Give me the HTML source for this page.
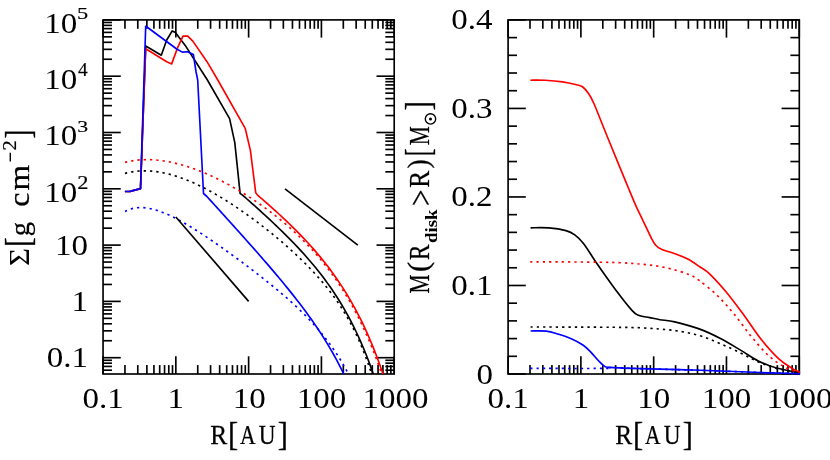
<!DOCTYPE html>
<html><head><meta charset="utf-8"><title>plot</title>
<style>
html,body{margin:0;padding:0;background:#fff;}
body{width:830px;height:460px;overflow:hidden;}
svg{display:block;will-change:transform;font-family:"Liberation Serif",serif;}
text{fill:#000;} .t{stroke:#000;stroke-width:0.25px;}
</style></head><body>
<svg width="830" height="460" viewBox="0 0 830 460">
<rect width="830" height="460" fill="#fff"/>
<clipPath id="c1"><rect x="103.05" y="19.9" width="291.15" height="354.1"/></clipPath>
<clipPath id="c2"><rect x="508.1" y="19.9" width="292.19999999999993" height="355.1"/></clipPath>
<rect x="103.05" y="19.90" width="291.15" height="354.10" fill="none" stroke="#000" stroke-width="1.65"/>
<line x1="103.05" y1="374.00" x2="103.05" y2="356.30" stroke="#000" stroke-width="1.65" />
<line x1="103.05" y1="19.90" x2="103.05" y2="37.60" stroke="#000" stroke-width="1.65" />
<line x1="124.96" y1="374.00" x2="124.96" y2="365.10" stroke="#000" stroke-width="1.65" />
<line x1="124.96" y1="19.90" x2="124.96" y2="28.80" stroke="#000" stroke-width="1.65" />
<line x1="137.78" y1="374.00" x2="137.78" y2="365.10" stroke="#000" stroke-width="1.65" />
<line x1="137.78" y1="19.90" x2="137.78" y2="28.80" stroke="#000" stroke-width="1.65" />
<line x1="146.87" y1="374.00" x2="146.87" y2="365.10" stroke="#000" stroke-width="1.65" />
<line x1="146.87" y1="19.90" x2="146.87" y2="28.80" stroke="#000" stroke-width="1.65" />
<line x1="153.93" y1="374.00" x2="153.93" y2="365.10" stroke="#000" stroke-width="1.65" />
<line x1="153.93" y1="19.90" x2="153.93" y2="28.80" stroke="#000" stroke-width="1.65" />
<line x1="159.69" y1="374.00" x2="159.69" y2="365.10" stroke="#000" stroke-width="1.65" />
<line x1="159.69" y1="19.90" x2="159.69" y2="28.80" stroke="#000" stroke-width="1.65" />
<line x1="164.56" y1="374.00" x2="164.56" y2="365.10" stroke="#000" stroke-width="1.65" />
<line x1="164.56" y1="19.90" x2="164.56" y2="28.80" stroke="#000" stroke-width="1.65" />
<line x1="168.78" y1="374.00" x2="168.78" y2="365.10" stroke="#000" stroke-width="1.65" />
<line x1="168.78" y1="19.90" x2="168.78" y2="28.80" stroke="#000" stroke-width="1.65" />
<line x1="172.51" y1="374.00" x2="172.51" y2="365.10" stroke="#000" stroke-width="1.65" />
<line x1="172.51" y1="19.90" x2="172.51" y2="28.80" stroke="#000" stroke-width="1.65" />
<line x1="175.84" y1="374.00" x2="175.84" y2="356.30" stroke="#000" stroke-width="1.65" />
<line x1="175.84" y1="19.90" x2="175.84" y2="37.60" stroke="#000" stroke-width="1.65" />
<line x1="197.75" y1="374.00" x2="197.75" y2="365.10" stroke="#000" stroke-width="1.65" />
<line x1="197.75" y1="19.90" x2="197.75" y2="28.80" stroke="#000" stroke-width="1.65" />
<line x1="210.57" y1="374.00" x2="210.57" y2="365.10" stroke="#000" stroke-width="1.65" />
<line x1="210.57" y1="19.90" x2="210.57" y2="28.80" stroke="#000" stroke-width="1.65" />
<line x1="219.66" y1="374.00" x2="219.66" y2="365.10" stroke="#000" stroke-width="1.65" />
<line x1="219.66" y1="19.90" x2="219.66" y2="28.80" stroke="#000" stroke-width="1.65" />
<line x1="226.71" y1="374.00" x2="226.71" y2="365.10" stroke="#000" stroke-width="1.65" />
<line x1="226.71" y1="19.90" x2="226.71" y2="28.80" stroke="#000" stroke-width="1.65" />
<line x1="232.48" y1="374.00" x2="232.48" y2="365.10" stroke="#000" stroke-width="1.65" />
<line x1="232.48" y1="19.90" x2="232.48" y2="28.80" stroke="#000" stroke-width="1.65" />
<line x1="237.35" y1="374.00" x2="237.35" y2="365.10" stroke="#000" stroke-width="1.65" />
<line x1="237.35" y1="19.90" x2="237.35" y2="28.80" stroke="#000" stroke-width="1.65" />
<line x1="241.57" y1="374.00" x2="241.57" y2="365.10" stroke="#000" stroke-width="1.65" />
<line x1="241.57" y1="19.90" x2="241.57" y2="28.80" stroke="#000" stroke-width="1.65" />
<line x1="245.29" y1="374.00" x2="245.29" y2="365.10" stroke="#000" stroke-width="1.65" />
<line x1="245.29" y1="19.90" x2="245.29" y2="28.80" stroke="#000" stroke-width="1.65" />
<line x1="248.62" y1="374.00" x2="248.62" y2="356.30" stroke="#000" stroke-width="1.65" />
<line x1="248.62" y1="19.90" x2="248.62" y2="37.60" stroke="#000" stroke-width="1.65" />
<line x1="270.54" y1="374.00" x2="270.54" y2="365.10" stroke="#000" stroke-width="1.65" />
<line x1="270.54" y1="19.90" x2="270.54" y2="28.80" stroke="#000" stroke-width="1.65" />
<line x1="283.35" y1="374.00" x2="283.35" y2="365.10" stroke="#000" stroke-width="1.65" />
<line x1="283.35" y1="19.90" x2="283.35" y2="28.80" stroke="#000" stroke-width="1.65" />
<line x1="292.45" y1="374.00" x2="292.45" y2="365.10" stroke="#000" stroke-width="1.65" />
<line x1="292.45" y1="19.90" x2="292.45" y2="28.80" stroke="#000" stroke-width="1.65" />
<line x1="299.50" y1="374.00" x2="299.50" y2="365.10" stroke="#000" stroke-width="1.65" />
<line x1="299.50" y1="19.90" x2="299.50" y2="28.80" stroke="#000" stroke-width="1.65" />
<line x1="305.26" y1="374.00" x2="305.26" y2="365.10" stroke="#000" stroke-width="1.65" />
<line x1="305.26" y1="19.90" x2="305.26" y2="28.80" stroke="#000" stroke-width="1.65" />
<line x1="310.14" y1="374.00" x2="310.14" y2="365.10" stroke="#000" stroke-width="1.65" />
<line x1="310.14" y1="19.90" x2="310.14" y2="28.80" stroke="#000" stroke-width="1.65" />
<line x1="314.36" y1="374.00" x2="314.36" y2="365.10" stroke="#000" stroke-width="1.65" />
<line x1="314.36" y1="19.90" x2="314.36" y2="28.80" stroke="#000" stroke-width="1.65" />
<line x1="318.08" y1="374.00" x2="318.08" y2="365.10" stroke="#000" stroke-width="1.65" />
<line x1="318.08" y1="19.90" x2="318.08" y2="28.80" stroke="#000" stroke-width="1.65" />
<line x1="321.41" y1="374.00" x2="321.41" y2="356.30" stroke="#000" stroke-width="1.65" />
<line x1="321.41" y1="19.90" x2="321.41" y2="37.60" stroke="#000" stroke-width="1.65" />
<line x1="343.32" y1="374.00" x2="343.32" y2="365.10" stroke="#000" stroke-width="1.65" />
<line x1="343.32" y1="19.90" x2="343.32" y2="28.80" stroke="#000" stroke-width="1.65" />
<line x1="356.14" y1="374.00" x2="356.14" y2="365.10" stroke="#000" stroke-width="1.65" />
<line x1="356.14" y1="19.90" x2="356.14" y2="28.80" stroke="#000" stroke-width="1.65" />
<line x1="365.23" y1="374.00" x2="365.23" y2="365.10" stroke="#000" stroke-width="1.65" />
<line x1="365.23" y1="19.90" x2="365.23" y2="28.80" stroke="#000" stroke-width="1.65" />
<line x1="372.29" y1="374.00" x2="372.29" y2="365.10" stroke="#000" stroke-width="1.65" />
<line x1="372.29" y1="19.90" x2="372.29" y2="28.80" stroke="#000" stroke-width="1.65" />
<line x1="378.05" y1="374.00" x2="378.05" y2="365.10" stroke="#000" stroke-width="1.65" />
<line x1="378.05" y1="19.90" x2="378.05" y2="28.80" stroke="#000" stroke-width="1.65" />
<line x1="382.93" y1="374.00" x2="382.93" y2="365.10" stroke="#000" stroke-width="1.65" />
<line x1="382.93" y1="19.90" x2="382.93" y2="28.80" stroke="#000" stroke-width="1.65" />
<line x1="387.15" y1="374.00" x2="387.15" y2="365.10" stroke="#000" stroke-width="1.65" />
<line x1="387.15" y1="19.90" x2="387.15" y2="28.80" stroke="#000" stroke-width="1.65" />
<line x1="390.87" y1="374.00" x2="390.87" y2="365.10" stroke="#000" stroke-width="1.65" />
<line x1="390.87" y1="19.90" x2="390.87" y2="28.80" stroke="#000" stroke-width="1.65" />
<line x1="394.20" y1="374.00" x2="394.20" y2="356.30" stroke="#000" stroke-width="1.65" />
<line x1="394.20" y1="19.90" x2="394.20" y2="37.60" stroke="#000" stroke-width="1.65" />
<line x1="103.05" y1="370.19" x2="111.95" y2="370.19" stroke="#000" stroke-width="1.65" />
<line x1="394.20" y1="370.19" x2="385.30" y2="370.19" stroke="#000" stroke-width="1.65" />
<line x1="103.05" y1="366.42" x2="111.95" y2="366.42" stroke="#000" stroke-width="1.65" />
<line x1="394.20" y1="366.42" x2="385.30" y2="366.42" stroke="#000" stroke-width="1.65" />
<line x1="103.05" y1="363.16" x2="111.95" y2="363.16" stroke="#000" stroke-width="1.65" />
<line x1="394.20" y1="363.16" x2="385.30" y2="363.16" stroke="#000" stroke-width="1.65" />
<line x1="103.05" y1="360.28" x2="111.95" y2="360.28" stroke="#000" stroke-width="1.65" />
<line x1="394.20" y1="360.28" x2="385.30" y2="360.28" stroke="#000" stroke-width="1.65" />
<line x1="103.05" y1="357.70" x2="120.75" y2="357.70" stroke="#000" stroke-width="1.65" />
<line x1="394.20" y1="357.70" x2="376.50" y2="357.70" stroke="#000" stroke-width="1.65" />
<line x1="103.05" y1="340.75" x2="111.95" y2="340.75" stroke="#000" stroke-width="1.65" />
<line x1="394.20" y1="340.75" x2="385.30" y2="340.75" stroke="#000" stroke-width="1.65" />
<line x1="103.05" y1="330.84" x2="111.95" y2="330.84" stroke="#000" stroke-width="1.65" />
<line x1="394.20" y1="330.84" x2="385.30" y2="330.84" stroke="#000" stroke-width="1.65" />
<line x1="103.05" y1="323.80" x2="111.95" y2="323.80" stroke="#000" stroke-width="1.65" />
<line x1="394.20" y1="323.80" x2="385.30" y2="323.80" stroke="#000" stroke-width="1.65" />
<line x1="103.05" y1="318.35" x2="111.95" y2="318.35" stroke="#000" stroke-width="1.65" />
<line x1="394.20" y1="318.35" x2="385.30" y2="318.35" stroke="#000" stroke-width="1.65" />
<line x1="103.05" y1="313.89" x2="111.95" y2="313.89" stroke="#000" stroke-width="1.65" />
<line x1="394.20" y1="313.89" x2="385.30" y2="313.89" stroke="#000" stroke-width="1.65" />
<line x1="103.05" y1="310.12" x2="111.95" y2="310.12" stroke="#000" stroke-width="1.65" />
<line x1="394.20" y1="310.12" x2="385.30" y2="310.12" stroke="#000" stroke-width="1.65" />
<line x1="103.05" y1="306.86" x2="111.95" y2="306.86" stroke="#000" stroke-width="1.65" />
<line x1="394.20" y1="306.86" x2="385.30" y2="306.86" stroke="#000" stroke-width="1.65" />
<line x1="103.05" y1="303.98" x2="111.95" y2="303.98" stroke="#000" stroke-width="1.65" />
<line x1="394.20" y1="303.98" x2="385.30" y2="303.98" stroke="#000" stroke-width="1.65" />
<line x1="103.05" y1="301.40" x2="120.75" y2="301.40" stroke="#000" stroke-width="1.65" />
<line x1="394.20" y1="301.40" x2="376.50" y2="301.40" stroke="#000" stroke-width="1.65" />
<line x1="103.05" y1="284.45" x2="111.95" y2="284.45" stroke="#000" stroke-width="1.65" />
<line x1="394.20" y1="284.45" x2="385.30" y2="284.45" stroke="#000" stroke-width="1.65" />
<line x1="103.05" y1="274.54" x2="111.95" y2="274.54" stroke="#000" stroke-width="1.65" />
<line x1="394.20" y1="274.54" x2="385.30" y2="274.54" stroke="#000" stroke-width="1.65" />
<line x1="103.05" y1="267.50" x2="111.95" y2="267.50" stroke="#000" stroke-width="1.65" />
<line x1="394.20" y1="267.50" x2="385.30" y2="267.50" stroke="#000" stroke-width="1.65" />
<line x1="103.05" y1="262.05" x2="111.95" y2="262.05" stroke="#000" stroke-width="1.65" />
<line x1="394.20" y1="262.05" x2="385.30" y2="262.05" stroke="#000" stroke-width="1.65" />
<line x1="103.05" y1="257.59" x2="111.95" y2="257.59" stroke="#000" stroke-width="1.65" />
<line x1="394.20" y1="257.59" x2="385.30" y2="257.59" stroke="#000" stroke-width="1.65" />
<line x1="103.05" y1="253.82" x2="111.95" y2="253.82" stroke="#000" stroke-width="1.65" />
<line x1="394.20" y1="253.82" x2="385.30" y2="253.82" stroke="#000" stroke-width="1.65" />
<line x1="103.05" y1="250.56" x2="111.95" y2="250.56" stroke="#000" stroke-width="1.65" />
<line x1="394.20" y1="250.56" x2="385.30" y2="250.56" stroke="#000" stroke-width="1.65" />
<line x1="103.05" y1="247.68" x2="111.95" y2="247.68" stroke="#000" stroke-width="1.65" />
<line x1="394.20" y1="247.68" x2="385.30" y2="247.68" stroke="#000" stroke-width="1.65" />
<line x1="103.05" y1="245.10" x2="120.75" y2="245.10" stroke="#000" stroke-width="1.65" />
<line x1="394.20" y1="245.10" x2="376.50" y2="245.10" stroke="#000" stroke-width="1.65" />
<line x1="103.05" y1="228.15" x2="111.95" y2="228.15" stroke="#000" stroke-width="1.65" />
<line x1="394.20" y1="228.15" x2="385.30" y2="228.15" stroke="#000" stroke-width="1.65" />
<line x1="103.05" y1="218.24" x2="111.95" y2="218.24" stroke="#000" stroke-width="1.65" />
<line x1="394.20" y1="218.24" x2="385.30" y2="218.24" stroke="#000" stroke-width="1.65" />
<line x1="103.05" y1="211.20" x2="111.95" y2="211.20" stroke="#000" stroke-width="1.65" />
<line x1="394.20" y1="211.20" x2="385.30" y2="211.20" stroke="#000" stroke-width="1.65" />
<line x1="103.05" y1="205.75" x2="111.95" y2="205.75" stroke="#000" stroke-width="1.65" />
<line x1="394.20" y1="205.75" x2="385.30" y2="205.75" stroke="#000" stroke-width="1.65" />
<line x1="103.05" y1="201.29" x2="111.95" y2="201.29" stroke="#000" stroke-width="1.65" />
<line x1="394.20" y1="201.29" x2="385.30" y2="201.29" stroke="#000" stroke-width="1.65" />
<line x1="103.05" y1="197.52" x2="111.95" y2="197.52" stroke="#000" stroke-width="1.65" />
<line x1="394.20" y1="197.52" x2="385.30" y2="197.52" stroke="#000" stroke-width="1.65" />
<line x1="103.05" y1="194.26" x2="111.95" y2="194.26" stroke="#000" stroke-width="1.65" />
<line x1="394.20" y1="194.26" x2="385.30" y2="194.26" stroke="#000" stroke-width="1.65" />
<line x1="103.05" y1="191.38" x2="111.95" y2="191.38" stroke="#000" stroke-width="1.65" />
<line x1="394.20" y1="191.38" x2="385.30" y2="191.38" stroke="#000" stroke-width="1.65" />
<line x1="103.05" y1="188.80" x2="120.75" y2="188.80" stroke="#000" stroke-width="1.65" />
<line x1="394.20" y1="188.80" x2="376.50" y2="188.80" stroke="#000" stroke-width="1.65" />
<line x1="103.05" y1="171.85" x2="111.95" y2="171.85" stroke="#000" stroke-width="1.65" />
<line x1="394.20" y1="171.85" x2="385.30" y2="171.85" stroke="#000" stroke-width="1.65" />
<line x1="103.05" y1="161.94" x2="111.95" y2="161.94" stroke="#000" stroke-width="1.65" />
<line x1="394.20" y1="161.94" x2="385.30" y2="161.94" stroke="#000" stroke-width="1.65" />
<line x1="103.05" y1="154.90" x2="111.95" y2="154.90" stroke="#000" stroke-width="1.65" />
<line x1="394.20" y1="154.90" x2="385.30" y2="154.90" stroke="#000" stroke-width="1.65" />
<line x1="103.05" y1="149.45" x2="111.95" y2="149.45" stroke="#000" stroke-width="1.65" />
<line x1="394.20" y1="149.45" x2="385.30" y2="149.45" stroke="#000" stroke-width="1.65" />
<line x1="103.05" y1="144.99" x2="111.95" y2="144.99" stroke="#000" stroke-width="1.65" />
<line x1="394.20" y1="144.99" x2="385.30" y2="144.99" stroke="#000" stroke-width="1.65" />
<line x1="103.05" y1="141.22" x2="111.95" y2="141.22" stroke="#000" stroke-width="1.65" />
<line x1="394.20" y1="141.22" x2="385.30" y2="141.22" stroke="#000" stroke-width="1.65" />
<line x1="103.05" y1="137.96" x2="111.95" y2="137.96" stroke="#000" stroke-width="1.65" />
<line x1="394.20" y1="137.96" x2="385.30" y2="137.96" stroke="#000" stroke-width="1.65" />
<line x1="103.05" y1="135.08" x2="111.95" y2="135.08" stroke="#000" stroke-width="1.65" />
<line x1="394.20" y1="135.08" x2="385.30" y2="135.08" stroke="#000" stroke-width="1.65" />
<line x1="103.05" y1="132.50" x2="120.75" y2="132.50" stroke="#000" stroke-width="1.65" />
<line x1="394.20" y1="132.50" x2="376.50" y2="132.50" stroke="#000" stroke-width="1.65" />
<line x1="103.05" y1="115.55" x2="111.95" y2="115.55" stroke="#000" stroke-width="1.65" />
<line x1="394.20" y1="115.55" x2="385.30" y2="115.55" stroke="#000" stroke-width="1.65" />
<line x1="103.05" y1="105.64" x2="111.95" y2="105.64" stroke="#000" stroke-width="1.65" />
<line x1="394.20" y1="105.64" x2="385.30" y2="105.64" stroke="#000" stroke-width="1.65" />
<line x1="103.05" y1="98.60" x2="111.95" y2="98.60" stroke="#000" stroke-width="1.65" />
<line x1="394.20" y1="98.60" x2="385.30" y2="98.60" stroke="#000" stroke-width="1.65" />
<line x1="103.05" y1="93.15" x2="111.95" y2="93.15" stroke="#000" stroke-width="1.65" />
<line x1="394.20" y1="93.15" x2="385.30" y2="93.15" stroke="#000" stroke-width="1.65" />
<line x1="103.05" y1="88.69" x2="111.95" y2="88.69" stroke="#000" stroke-width="1.65" />
<line x1="394.20" y1="88.69" x2="385.30" y2="88.69" stroke="#000" stroke-width="1.65" />
<line x1="103.05" y1="84.92" x2="111.95" y2="84.92" stroke="#000" stroke-width="1.65" />
<line x1="394.20" y1="84.92" x2="385.30" y2="84.92" stroke="#000" stroke-width="1.65" />
<line x1="103.05" y1="81.66" x2="111.95" y2="81.66" stroke="#000" stroke-width="1.65" />
<line x1="394.20" y1="81.66" x2="385.30" y2="81.66" stroke="#000" stroke-width="1.65" />
<line x1="103.05" y1="78.78" x2="111.95" y2="78.78" stroke="#000" stroke-width="1.65" />
<line x1="394.20" y1="78.78" x2="385.30" y2="78.78" stroke="#000" stroke-width="1.65" />
<line x1="103.05" y1="76.20" x2="120.75" y2="76.20" stroke="#000" stroke-width="1.65" />
<line x1="394.20" y1="76.20" x2="376.50" y2="76.20" stroke="#000" stroke-width="1.65" />
<line x1="103.05" y1="59.25" x2="111.95" y2="59.25" stroke="#000" stroke-width="1.65" />
<line x1="394.20" y1="59.25" x2="385.30" y2="59.25" stroke="#000" stroke-width="1.65" />
<line x1="103.05" y1="49.34" x2="111.95" y2="49.34" stroke="#000" stroke-width="1.65" />
<line x1="394.20" y1="49.34" x2="385.30" y2="49.34" stroke="#000" stroke-width="1.65" />
<line x1="103.05" y1="42.30" x2="111.95" y2="42.30" stroke="#000" stroke-width="1.65" />
<line x1="394.20" y1="42.30" x2="385.30" y2="42.30" stroke="#000" stroke-width="1.65" />
<line x1="103.05" y1="36.85" x2="111.95" y2="36.85" stroke="#000" stroke-width="1.65" />
<line x1="394.20" y1="36.85" x2="385.30" y2="36.85" stroke="#000" stroke-width="1.65" />
<line x1="103.05" y1="32.39" x2="111.95" y2="32.39" stroke="#000" stroke-width="1.65" />
<line x1="394.20" y1="32.39" x2="385.30" y2="32.39" stroke="#000" stroke-width="1.65" />
<line x1="103.05" y1="28.62" x2="111.95" y2="28.62" stroke="#000" stroke-width="1.65" />
<line x1="394.20" y1="28.62" x2="385.30" y2="28.62" stroke="#000" stroke-width="1.65" />
<line x1="103.05" y1="25.36" x2="111.95" y2="25.36" stroke="#000" stroke-width="1.65" />
<line x1="394.20" y1="25.36" x2="385.30" y2="25.36" stroke="#000" stroke-width="1.65" />
<line x1="103.05" y1="22.48" x2="111.95" y2="22.48" stroke="#000" stroke-width="1.65" />
<line x1="394.20" y1="22.48" x2="385.30" y2="22.48" stroke="#000" stroke-width="1.65" />
<line x1="103.05" y1="19.90" x2="120.75" y2="19.90" stroke="#000" stroke-width="1.65" />
<line x1="394.20" y1="19.90" x2="376.50" y2="19.90" stroke="#000" stroke-width="1.65" />
<path d="M125.00,173.38 C125.50,173.26 127.00,172.86 128.00,172.64 C129.00,172.41 130.00,172.21 131.00,172.03 C132.00,171.85 133.00,171.69 134.00,171.55 C135.00,171.41 136.00,171.30 137.00,171.20 C138.00,171.10 139.00,171.02 140.00,170.97 C141.00,170.91 142.00,170.87 143.00,170.85 C144.00,170.83 145.00,170.83 146.00,170.85 C147.00,170.86 148.00,170.90 149.00,170.95 C150.00,171.00 151.00,171.07 152.00,171.16 C153.00,171.25 154.00,171.35 155.00,171.47 C156.00,171.59 157.00,171.72 158.00,171.87 C159.00,172.02 160.00,172.19 161.00,172.37 C162.00,172.55 163.00,172.75 164.00,172.96 C165.00,173.17 166.00,173.39 167.00,173.63 C168.00,173.87 169.00,174.12 170.00,174.39 C171.00,174.65 172.00,174.93 173.00,175.22 C174.00,175.52 175.00,175.82 176.00,176.14 C177.00,176.45 178.00,176.78 179.00,177.12 C180.00,177.47 181.00,177.82 182.00,178.18 C183.00,178.55 184.00,178.92 185.00,179.31 C186.00,179.70 187.00,180.10 188.00,180.50 C189.00,180.91 190.00,181.33 191.00,181.76 C192.00,182.19 193.00,182.63 194.00,183.08 C195.00,183.53 196.00,183.99 197.00,184.46 C198.00,184.93 199.00,185.41 200.00,185.90 C201.00,186.38 202.00,186.88 203.00,187.39 C204.00,187.89 205.00,188.41 206.00,188.93 C207.00,189.46 208.00,189.99 209.00,190.53 C210.00,191.07 211.00,191.62 212.00,192.17 C213.00,192.73 214.00,193.30 215.00,193.87 C216.00,194.44 217.00,195.02 218.00,195.61 C219.00,196.20 220.00,196.79 221.00,197.40 C222.00,198.00 223.00,198.61 224.00,199.23 C225.00,199.84 226.00,200.47 227.00,201.10 C228.00,201.73 229.00,202.37 230.00,203.01 C231.00,203.66 232.00,204.31 233.00,204.97 C234.00,205.63 235.00,206.29 236.00,206.96 C237.00,207.63 238.00,208.31 239.00,208.99 C240.00,209.68 241.00,210.37 242.00,211.06 C243.00,211.76 244.00,212.46 245.00,213.17 C246.00,213.88 247.00,214.59 248.00,215.31 C249.00,216.03 250.00,216.76 251.00,217.49 C252.00,218.22 253.00,218.96 254.00,219.70 C255.00,220.44 256.00,221.19 257.00,221.95 C258.00,222.70 259.00,223.47 260.00,224.23 C261.00,225.00 262.00,225.77 263.00,226.55 C264.00,227.33 265.00,228.11 266.00,228.90 C267.00,229.69 268.00,230.49 269.00,231.29 C270.00,232.10 271.00,232.90 272.00,233.72 C273.00,234.53 274.00,235.35 275.00,236.18 C276.00,237.01 277.00,237.84 278.00,238.68 C279.00,239.52 280.00,240.37 281.00,241.22 C282.00,242.08 283.00,242.94 284.00,243.81 C285.00,244.68 286.00,245.55 287.00,246.43 C288.00,247.32 289.00,248.21 290.00,249.11 C291.00,250.01 292.00,250.91 293.00,251.83 C294.00,252.74 295.00,253.67 296.00,254.60 C297.00,255.54 298.00,256.48 299.00,257.43 C300.00,258.39 301.00,259.35 302.00,260.32 C303.00,261.30 304.00,262.28 305.00,263.28 C306.00,264.28 307.00,265.28 308.00,266.31 C309.00,267.33 310.00,268.36 311.00,269.41 C312.00,270.46 313.00,271.52 314.00,272.60 C315.00,273.68 316.00,274.78 317.00,275.89 C318.00,277.00 319.00,278.13 320.00,279.28 C321.00,280.43 322.00,281.59 323.00,282.78 C324.00,283.97 325.00,285.18 326.00,286.41 C327.00,287.65 328.00,288.90 329.00,290.19 C330.00,291.47 331.00,292.78 332.00,294.12 C333.00,295.46 334.00,296.82 335.00,298.22 C336.00,299.63 337.00,301.06 338.00,302.53 C339.00,304.00 340.00,305.50 341.00,307.05 C342.00,308.60 343.00,310.18 344.00,311.82 C345.00,313.45 346.00,315.13 347.00,316.86 C348.00,318.59 349.00,320.37 350.00,322.21 C351.00,324.06 352.00,325.95 353.00,327.91 C354.00,329.87 355.00,331.90 356.00,334.00 C357.00,336.10 358.00,338.26 359.00,340.52 C360.00,342.77 361.00,345.10 362.00,347.53 C363.00,349.96 364.00,352.46 365.00,355.09 C366.00,357.71 367.00,360.42 368.00,363.26 C369.00,366.11 370.00,369.05 371.00,372.14 C372.00,375.22 373.50,380.18 374.00,381.79" fill="none" stroke="#000000" stroke-width="1.65" stroke-linejoin="round" stroke-dasharray="2.3 4"  clip-path="url(#c1)"/>
<path d="M124.90,191.50 L130.10,191.40 L140.50,188.60 L145.70,46.00 L150.40,48.70 L161.30,55.20 L166.70,40.00 L172.20,30.90 L175.40,32.40 L185.20,45.40 L207.40,80.00 L229.60,118.60 L234.80,142.60 L240.10,193.30 L240.10,193.30 C240.60,193.69 242.10,194.79 243.10,195.62 C244.10,196.45 245.10,197.37 246.10,198.25 C247.10,199.13 248.10,200.01 249.10,200.90 C250.10,201.78 251.10,202.67 252.10,203.56 C253.10,204.45 254.10,205.34 255.10,206.24 C256.10,207.14 257.10,208.03 258.10,208.94 C259.10,209.84 260.10,210.74 261.10,211.65 C262.10,212.56 263.10,213.48 264.10,214.39 C265.10,215.31 266.10,216.23 267.10,217.16 C268.10,218.08 269.10,219.01 270.10,219.94 C271.10,220.88 272.10,221.82 273.10,222.76 C274.10,223.70 275.10,224.65 276.10,225.61 C277.10,226.56 278.10,227.52 279.10,228.49 C280.10,229.46 281.10,230.43 282.10,231.41 C283.10,232.39 284.10,233.37 285.10,234.36 C286.10,235.36 287.10,236.36 288.10,237.36 C289.10,238.37 290.10,239.39 291.10,240.41 C292.10,241.43 293.10,242.47 294.10,243.51 C295.10,244.55 296.10,245.60 297.10,246.66 C298.10,247.72 299.10,248.80 300.10,249.88 C301.10,250.96 302.10,252.05 303.10,253.16 C304.10,254.26 305.10,255.38 306.10,256.51 C307.10,257.64 308.10,258.79 309.10,259.94 C310.10,261.10 311.10,262.27 312.10,263.46 C313.10,264.65 314.10,265.85 315.10,267.07 C316.10,268.29 317.10,269.53 318.10,270.78 C319.10,272.04 320.10,273.31 321.10,274.61 C322.10,275.90 323.10,277.21 324.10,278.55 C325.10,279.88 326.10,281.24 327.10,282.62 C328.10,284.00 329.10,285.41 330.10,286.84 C331.10,288.27 332.10,289.72 333.10,291.21 C334.10,292.70 335.10,294.21 336.10,295.75 C337.10,297.30 338.10,298.87 339.10,300.48 C340.10,302.09 341.10,303.72 342.10,305.40 C343.10,307.08 344.10,308.79 345.10,310.55 C346.10,312.30 347.10,314.09 348.10,315.93 C349.10,317.77 350.10,319.65 351.10,321.58 C352.10,323.50 353.10,325.47 354.10,327.50 C355.10,329.53 356.10,331.60 357.10,333.74 C358.10,335.87 359.10,338.05 360.10,340.30 C361.10,342.55 362.10,344.86 363.10,347.24 C364.10,349.62 365.10,352.05 366.10,354.57 C367.10,357.09 368.10,359.67 369.10,362.34 C370.10,365.00 371.10,367.74 372.10,370.57 C373.10,373.41 374.37,377.16 375.10,379.33 C375.83,381.50 376.27,382.89 376.50,383.60" fill="none" stroke="#000000" stroke-width="1.65" stroke-linejoin="round" clip-path="url(#c1)"/>
<path d="M125.00,162.35 C125.50,162.24 127.00,161.87 128.00,161.65 C129.00,161.43 130.00,161.24 131.00,161.06 C132.00,160.88 133.00,160.72 134.00,160.57 C135.00,160.43 136.00,160.31 137.00,160.20 C138.00,160.09 139.00,160.00 140.00,159.92 C141.00,159.84 142.00,159.79 143.00,159.74 C144.00,159.70 145.00,159.67 146.00,159.66 C147.00,159.65 148.00,159.65 149.00,159.67 C150.00,159.68 151.00,159.72 152.00,159.76 C153.00,159.81 154.00,159.87 155.00,159.94 C156.00,160.02 157.00,160.10 158.00,160.21 C159.00,160.31 160.00,160.42 161.00,160.55 C162.00,160.67 163.00,160.81 164.00,160.96 C165.00,161.12 166.00,161.28 167.00,161.46 C168.00,161.63 169.00,161.82 170.00,162.02 C171.00,162.22 172.00,162.43 173.00,162.65 C174.00,162.87 175.00,163.11 176.00,163.35 C177.00,163.60 178.00,163.85 179.00,164.12 C180.00,164.38 181.00,164.66 182.00,164.94 C183.00,165.23 184.00,165.53 185.00,165.83 C186.00,166.14 187.00,166.45 188.00,166.78 C189.00,167.10 190.00,167.44 191.00,167.78 C192.00,168.13 193.00,168.48 194.00,168.84 C195.00,169.20 196.00,169.58 197.00,169.96 C198.00,170.34 199.00,170.73 200.00,171.12 C201.00,171.52 202.00,171.93 203.00,172.34 C204.00,172.76 205.00,173.18 206.00,173.61 C207.00,174.04 208.00,174.48 209.00,174.93 C210.00,175.38 211.00,175.83 212.00,176.29 C213.00,176.76 214.00,177.23 215.00,177.71 C216.00,178.19 217.00,178.67 218.00,179.17 C219.00,179.66 220.00,180.16 221.00,180.67 C222.00,181.18 223.00,181.70 224.00,182.22 C225.00,182.75 226.00,183.28 227.00,183.82 C228.00,184.36 229.00,184.90 230.00,185.46 C231.00,186.01 232.00,186.57 233.00,187.14 C234.00,187.71 235.00,188.28 236.00,188.87 C237.00,189.45 238.00,190.04 239.00,190.64 C240.00,191.23 241.00,191.84 242.00,192.45 C243.00,193.06 244.00,193.68 245.00,194.31 C246.00,194.93 247.00,195.57 248.00,196.21 C249.00,196.85 250.00,197.50 251.00,198.15 C252.00,198.81 253.00,199.47 254.00,200.14 C255.00,200.81 256.00,201.49 257.00,202.18 C258.00,202.87 259.00,203.56 260.00,204.26 C261.00,204.96 262.00,205.67 263.00,206.39 C264.00,207.11 265.00,207.84 266.00,208.57 C267.00,209.31 268.00,210.05 269.00,210.80 C270.00,211.55 271.00,212.31 272.00,213.08 C273.00,213.85 274.00,214.63 275.00,215.41 C276.00,216.20 277.00,217.00 278.00,217.80 C279.00,218.61 280.00,219.42 281.00,220.25 C282.00,221.07 283.00,221.91 284.00,222.75 C285.00,223.60 286.00,224.45 287.00,225.32 C288.00,226.19 289.00,227.06 290.00,227.95 C291.00,228.84 292.00,229.74 293.00,230.65 C294.00,231.57 295.00,232.49 296.00,233.43 C297.00,234.36 298.00,235.31 299.00,236.27 C300.00,237.24 301.00,238.21 302.00,239.20 C303.00,240.19 304.00,241.19 305.00,242.21 C306.00,243.23 307.00,244.26 308.00,245.31 C309.00,246.36 310.00,247.42 311.00,248.50 C312.00,249.58 313.00,250.68 314.00,251.80 C315.00,252.91 316.00,254.04 317.00,255.19 C318.00,256.35 319.00,257.51 320.00,258.70 C321.00,259.89 322.00,261.10 323.00,262.33 C324.00,263.56 325.00,264.81 326.00,266.09 C327.00,267.36 328.00,268.66 329.00,269.98 C330.00,271.30 331.00,272.65 332.00,274.02 C333.00,275.39 334.00,276.78 335.00,278.21 C336.00,279.63 337.00,281.08 338.00,282.56 C339.00,284.04 340.00,285.55 341.00,287.09 C342.00,288.63 343.00,290.20 344.00,291.81 C345.00,293.41 346.00,295.05 347.00,296.73 C348.00,298.40 349.00,300.11 350.00,301.86 C351.00,303.61 352.00,305.39 353.00,307.22 C354.00,309.05 355.00,310.91 356.00,312.83 C357.00,314.74 358.00,316.70 359.00,318.70 C360.00,320.70 361.00,322.75 362.00,324.85 C363.00,326.95 364.00,329.10 365.00,331.31 C366.00,333.51 367.00,335.77 368.00,338.09 C369.00,340.40 370.00,342.78 371.00,345.21 C372.00,347.65 373.00,350.14 374.00,352.71 C375.00,355.28 376.00,357.90 377.00,360.61 C378.00,363.31 379.00,366.08 380.00,368.93 C381.00,371.78 382.50,376.25 383.00,377.72" fill="none" stroke="#ff0000" stroke-width="1.65" stroke-linejoin="round" stroke-dasharray="2.3 4"  clip-path="url(#c1)"/>
<path d="M124.90,191.50 L130.10,191.40 L140.50,188.60 L145.70,48.70 L166.70,61.70 L171.70,63.90 L177.60,47.60 L183.00,36.10 L187.80,36.10 L192.80,41.10 L207.00,61.70 L217.80,80.00 L245.20,128.30 L250.40,150.40 L255.70,192.70 L255.70,192.70 C256.20,193.27 257.70,195.15 258.70,196.15 C259.70,197.15 260.70,197.86 261.70,198.73 C262.70,199.59 263.70,200.46 264.70,201.33 C265.70,202.20 266.70,203.07 267.70,203.95 C268.70,204.83 269.70,205.71 270.70,206.60 C271.70,207.49 272.70,208.38 273.70,209.28 C274.70,210.18 275.70,211.09 276.70,212.00 C277.70,212.91 278.70,213.82 279.70,214.74 C280.70,215.67 281.70,216.59 282.70,217.53 C283.70,218.46 284.70,219.40 285.70,220.35 C286.70,221.30 287.70,222.25 288.70,223.22 C289.70,224.18 290.70,225.15 291.70,226.13 C292.70,227.11 293.70,228.10 294.70,229.09 C295.70,230.09 296.70,231.09 297.70,232.11 C298.70,233.12 299.70,234.15 300.70,235.18 C301.70,236.22 302.70,237.26 303.70,238.32 C304.70,239.38 305.70,240.44 306.70,241.52 C307.70,242.60 308.70,243.69 309.70,244.80 C310.70,245.91 311.70,247.02 312.70,248.16 C313.70,249.29 314.70,250.43 315.70,251.60 C316.70,252.76 317.70,253.93 318.70,255.13 C319.70,256.32 320.70,257.53 321.70,258.76 C322.70,259.99 323.70,261.23 324.70,262.50 C325.70,263.76 326.70,265.04 327.70,266.35 C328.70,267.65 329.70,268.98 330.70,270.32 C331.70,271.67 332.70,273.04 333.70,274.43 C334.70,275.83 335.70,277.24 336.70,278.69 C337.70,280.13 338.70,281.60 339.70,283.10 C340.70,284.59 341.70,286.12 342.70,287.67 C343.70,289.23 344.70,290.81 345.70,292.43 C346.70,294.05 347.70,295.70 348.70,297.39 C349.70,299.07 350.70,300.79 351.70,302.55 C352.70,304.31 353.70,306.10 354.70,307.94 C355.70,309.78 356.70,311.66 357.70,313.58 C358.70,315.50 359.70,317.47 360.70,319.48 C361.70,321.50 362.70,323.56 363.70,325.67 C364.70,327.79 365.70,329.95 366.70,332.17 C367.70,334.39 368.70,336.66 369.70,339.00 C370.70,341.33 371.70,343.72 372.70,346.18 C373.70,348.65 374.70,351.16 375.70,353.76 C376.70,356.35 377.70,359.01 378.70,361.75 C379.70,364.49 380.70,367.30 381.70,370.19 C382.70,373.09 383.90,376.70 384.70,379.12 C385.50,381.55 386.20,383.80 386.50,384.73" fill="none" stroke="#ff0000" stroke-width="1.65" stroke-linejoin="round" clip-path="url(#c1)"/>
<path d="M125.00,211.45 C125.50,211.21 127.00,210.44 128.00,210.02 C129.00,209.61 130.00,209.26 131.00,208.96 C132.00,208.65 133.00,208.41 134.00,208.21 C135.00,208.02 136.00,207.87 137.00,207.76 C138.00,207.66 139.00,207.60 140.00,207.58 C141.00,207.55 142.00,207.58 143.00,207.63 C144.00,207.68 145.00,207.77 146.00,207.89 C147.00,208.01 148.00,208.17 149.00,208.35 C150.00,208.53 151.00,208.74 152.00,208.98 C153.00,209.21 154.00,209.48 155.00,209.76 C156.00,210.05 157.00,210.36 158.00,210.69 C159.00,211.02 160.00,211.37 161.00,211.74 C162.00,212.11 163.00,212.50 164.00,212.91 C165.00,213.32 166.00,213.74 167.00,214.18 C168.00,214.62 169.00,215.08 170.00,215.55 C171.00,216.02 172.00,216.50 173.00,217.00 C174.00,217.49 175.00,218.00 176.00,218.52 C177.00,219.04 178.00,219.57 179.00,220.12 C180.00,220.66 181.00,221.21 182.00,221.77 C183.00,222.33 184.00,222.91 185.00,223.49 C186.00,224.06 187.00,224.65 188.00,225.25 C189.00,225.84 190.00,226.45 191.00,227.06 C192.00,227.67 193.00,228.29 194.00,228.91 C195.00,229.53 196.00,230.16 197.00,230.80 C198.00,231.44 199.00,232.08 200.00,232.72 C201.00,233.37 202.00,234.02 203.00,234.68 C204.00,235.34 205.00,236.00 206.00,236.67 C207.00,237.33 208.00,238.00 209.00,238.68 C210.00,239.35 211.00,240.03 212.00,240.72 C213.00,241.40 214.00,242.09 215.00,242.78 C216.00,243.47 217.00,244.16 218.00,244.86 C219.00,245.56 220.00,246.26 221.00,246.96 C222.00,247.67 223.00,248.37 224.00,249.08 C225.00,249.80 226.00,250.51 227.00,251.23 C228.00,251.94 229.00,252.66 230.00,253.38 C231.00,254.11 232.00,254.83 233.00,255.56 C234.00,256.29 235.00,257.02 236.00,257.75 C237.00,258.48 238.00,259.22 239.00,259.96 C240.00,260.70 241.00,261.44 242.00,262.19 C243.00,262.93 244.00,263.68 245.00,264.43 C246.00,265.18 247.00,265.93 248.00,266.69 C249.00,267.44 250.00,268.20 251.00,268.97 C252.00,269.73 253.00,270.50 254.00,271.26 C255.00,272.03 256.00,272.81 257.00,273.58 C258.00,274.36 259.00,275.14 260.00,275.92 C261.00,276.70 262.00,277.49 263.00,278.28 C264.00,279.07 265.00,279.86 266.00,280.66 C267.00,281.46 268.00,282.27 269.00,283.07 C270.00,283.88 271.00,284.69 272.00,285.51 C273.00,286.33 274.00,287.15 275.00,287.98 C276.00,288.81 277.00,289.64 278.00,290.48 C279.00,291.32 280.00,292.17 281.00,293.02 C282.00,293.87 283.00,294.73 284.00,295.60 C285.00,296.46 286.00,297.33 287.00,298.21 C288.00,299.10 289.00,299.98 290.00,300.88 C291.00,301.78 292.00,302.68 293.00,303.60 C294.00,304.52 295.00,305.44 296.00,306.38 C297.00,307.31 298.00,308.26 299.00,309.21 C300.00,310.17 301.00,311.14 302.00,312.12 C303.00,313.11 304.00,314.10 305.00,315.11 C306.00,316.12 307.00,317.14 308.00,318.18 C309.00,319.21 310.00,320.27 311.00,321.34 C312.00,322.41 313.00,323.49 314.00,324.60 C315.00,325.71 316.00,326.83 317.00,327.98 C318.00,329.12 319.00,330.29 320.00,331.48 C321.00,332.67 322.00,333.88 323.00,335.12 C324.00,336.36 325.00,337.62 326.00,338.91 C327.00,340.20 328.00,341.52 329.00,342.87 C330.00,344.22 331.00,345.60 332.00,347.01 C333.00,348.43 334.00,349.87 335.00,351.36 C336.00,352.85 337.00,354.37 338.00,355.94 C339.00,357.50 340.00,359.11 341.00,360.76 C342.00,362.42 343.00,364.11 344.00,365.86 C345.00,367.61 346.00,369.41 347.00,371.27 C348.00,373.13 349.50,376.05 350.00,377.01" fill="none" stroke="#0000ff" stroke-width="1.65" stroke-linejoin="round" stroke-dasharray="2.3 4"  clip-path="url(#c1)"/>
<path d="M124.90,191.50 L130.10,191.40 L140.50,188.60 L145.70,26.30 L148.30,28.00 L176.70,49.00 L182.30,52.10 L187.50,51.80 L193.40,54.60 L196.00,71.50 L197.70,80.00 L203.50,193.50 L203.50,193.50 C204.00,193.93 205.50,195.09 206.50,196.07 C207.50,197.05 208.50,198.27 209.50,199.37 C210.50,200.46 211.50,201.56 212.50,202.66 C213.50,203.76 214.50,204.86 215.50,205.97 C216.50,207.07 217.50,208.17 218.50,209.27 C219.50,210.37 220.50,211.48 221.50,212.58 C222.50,213.68 223.50,214.79 224.50,215.89 C225.50,217.00 226.50,218.11 227.50,219.21 C228.50,220.32 229.50,221.43 230.50,222.54 C231.50,223.65 232.50,224.76 233.50,225.87 C234.50,226.98 235.50,228.09 236.50,229.20 C237.50,230.32 238.50,231.43 239.50,232.55 C240.50,233.66 241.50,234.78 242.50,235.90 C243.50,237.02 244.50,238.14 245.50,239.26 C246.50,240.39 247.50,241.51 248.50,242.64 C249.50,243.76 250.50,244.89 251.50,246.02 C252.50,247.15 253.50,248.28 254.50,249.42 C255.50,250.55 256.50,251.69 257.50,252.83 C258.50,253.97 259.50,255.11 260.50,256.25 C261.50,257.40 262.50,258.54 263.50,259.70 C264.50,260.85 265.50,262.00 266.50,263.16 C267.50,264.32 268.50,265.48 269.50,266.64 C270.50,267.81 271.50,268.98 272.50,270.15 C273.50,271.32 274.50,272.50 275.50,273.68 C276.50,274.87 277.50,276.05 278.50,277.25 C279.50,278.44 280.50,279.64 281.50,280.84 C282.50,282.05 283.50,283.25 284.50,284.47 C285.50,285.69 286.50,286.91 287.50,288.14 C288.50,289.37 289.50,290.61 290.50,291.86 C291.50,293.10 292.50,294.36 293.50,295.62 C294.50,296.89 295.50,298.16 296.50,299.44 C297.50,300.72 298.50,302.02 299.50,303.32 C300.50,304.62 301.50,305.94 302.50,307.27 C303.50,308.59 304.50,309.93 305.50,311.29 C306.50,312.64 307.50,314.01 308.50,315.39 C309.50,316.77 310.50,318.17 311.50,319.59 C312.50,321.00 313.50,322.43 314.50,323.88 C315.50,325.33 316.50,326.80 317.50,328.29 C318.50,329.78 319.50,331.29 320.50,332.83 C321.50,334.37 322.50,335.92 323.50,337.51 C324.50,339.09 325.50,340.70 326.50,342.34 C327.50,343.97 328.50,345.64 329.50,347.34 C330.50,349.04 331.50,350.76 332.50,352.53 C333.50,354.30 334.50,356.10 335.50,357.94 C336.50,359.78 337.50,361.65 338.50,363.58 C339.50,365.50 340.50,367.46 341.50,369.48 C342.50,371.49 343.50,373.55 344.50,375.67 C345.50,377.78 347.00,381.09 347.50,382.18" fill="none" stroke="#0000ff" stroke-width="1.65" stroke-linejoin="round" clip-path="url(#c1)"/>
<line x1="175.84" y1="216.95" x2="248.62" y2="301.40" stroke="#000" stroke-width="1.65" />
<line x1="285.02" y1="188.80" x2="357.81" y2="245.10" stroke="#000" stroke-width="1.65" />
<rect x="508.10" y="19.90" width="291.20" height="354.10" fill="none" stroke="#000" stroke-width="1.65"/>
<line x1="508.10" y1="374.00" x2="508.10" y2="356.30" stroke="#000" stroke-width="1.65" />
<line x1="508.10" y1="19.90" x2="508.10" y2="37.60" stroke="#000" stroke-width="1.65" />
<line x1="530.01" y1="374.00" x2="530.01" y2="365.10" stroke="#000" stroke-width="1.65" />
<line x1="530.01" y1="19.90" x2="530.01" y2="28.80" stroke="#000" stroke-width="1.65" />
<line x1="542.83" y1="374.00" x2="542.83" y2="365.10" stroke="#000" stroke-width="1.65" />
<line x1="542.83" y1="19.90" x2="542.83" y2="28.80" stroke="#000" stroke-width="1.65" />
<line x1="551.92" y1="374.00" x2="551.92" y2="365.10" stroke="#000" stroke-width="1.65" />
<line x1="551.92" y1="19.90" x2="551.92" y2="28.80" stroke="#000" stroke-width="1.65" />
<line x1="558.98" y1="374.00" x2="558.98" y2="365.10" stroke="#000" stroke-width="1.65" />
<line x1="558.98" y1="19.90" x2="558.98" y2="28.80" stroke="#000" stroke-width="1.65" />
<line x1="564.74" y1="374.00" x2="564.74" y2="365.10" stroke="#000" stroke-width="1.65" />
<line x1="564.74" y1="19.90" x2="564.74" y2="28.80" stroke="#000" stroke-width="1.65" />
<line x1="569.61" y1="374.00" x2="569.61" y2="365.10" stroke="#000" stroke-width="1.65" />
<line x1="569.61" y1="19.90" x2="569.61" y2="28.80" stroke="#000" stroke-width="1.65" />
<line x1="573.83" y1="374.00" x2="573.83" y2="365.10" stroke="#000" stroke-width="1.65" />
<line x1="573.83" y1="19.90" x2="573.83" y2="28.80" stroke="#000" stroke-width="1.65" />
<line x1="577.56" y1="374.00" x2="577.56" y2="365.10" stroke="#000" stroke-width="1.65" />
<line x1="577.56" y1="19.90" x2="577.56" y2="28.80" stroke="#000" stroke-width="1.65" />
<line x1="580.89" y1="374.00" x2="580.89" y2="356.30" stroke="#000" stroke-width="1.65" />
<line x1="580.89" y1="19.90" x2="580.89" y2="37.60" stroke="#000" stroke-width="1.65" />
<line x1="602.80" y1="374.00" x2="602.80" y2="365.10" stroke="#000" stroke-width="1.65" />
<line x1="602.80" y1="19.90" x2="602.80" y2="28.80" stroke="#000" stroke-width="1.65" />
<line x1="615.62" y1="374.00" x2="615.62" y2="365.10" stroke="#000" stroke-width="1.65" />
<line x1="615.62" y1="19.90" x2="615.62" y2="28.80" stroke="#000" stroke-width="1.65" />
<line x1="624.71" y1="374.00" x2="624.71" y2="365.10" stroke="#000" stroke-width="1.65" />
<line x1="624.71" y1="19.90" x2="624.71" y2="28.80" stroke="#000" stroke-width="1.65" />
<line x1="631.76" y1="374.00" x2="631.76" y2="365.10" stroke="#000" stroke-width="1.65" />
<line x1="631.76" y1="19.90" x2="631.76" y2="28.80" stroke="#000" stroke-width="1.65" />
<line x1="637.53" y1="374.00" x2="637.53" y2="365.10" stroke="#000" stroke-width="1.65" />
<line x1="637.53" y1="19.90" x2="637.53" y2="28.80" stroke="#000" stroke-width="1.65" />
<line x1="642.40" y1="374.00" x2="642.40" y2="365.10" stroke="#000" stroke-width="1.65" />
<line x1="642.40" y1="19.90" x2="642.40" y2="28.80" stroke="#000" stroke-width="1.65" />
<line x1="646.62" y1="374.00" x2="646.62" y2="365.10" stroke="#000" stroke-width="1.65" />
<line x1="646.62" y1="19.90" x2="646.62" y2="28.80" stroke="#000" stroke-width="1.65" />
<line x1="650.34" y1="374.00" x2="650.34" y2="365.10" stroke="#000" stroke-width="1.65" />
<line x1="650.34" y1="19.90" x2="650.34" y2="28.80" stroke="#000" stroke-width="1.65" />
<line x1="653.67" y1="374.00" x2="653.67" y2="356.30" stroke="#000" stroke-width="1.65" />
<line x1="653.67" y1="19.90" x2="653.67" y2="37.60" stroke="#000" stroke-width="1.65" />
<line x1="675.59" y1="374.00" x2="675.59" y2="365.10" stroke="#000" stroke-width="1.65" />
<line x1="675.59" y1="19.90" x2="675.59" y2="28.80" stroke="#000" stroke-width="1.65" />
<line x1="688.40" y1="374.00" x2="688.40" y2="365.10" stroke="#000" stroke-width="1.65" />
<line x1="688.40" y1="19.90" x2="688.40" y2="28.80" stroke="#000" stroke-width="1.65" />
<line x1="697.50" y1="374.00" x2="697.50" y2="365.10" stroke="#000" stroke-width="1.65" />
<line x1="697.50" y1="19.90" x2="697.50" y2="28.80" stroke="#000" stroke-width="1.65" />
<line x1="704.55" y1="374.00" x2="704.55" y2="365.10" stroke="#000" stroke-width="1.65" />
<line x1="704.55" y1="19.90" x2="704.55" y2="28.80" stroke="#000" stroke-width="1.65" />
<line x1="710.31" y1="374.00" x2="710.31" y2="365.10" stroke="#000" stroke-width="1.65" />
<line x1="710.31" y1="19.90" x2="710.31" y2="28.80" stroke="#000" stroke-width="1.65" />
<line x1="715.19" y1="374.00" x2="715.19" y2="365.10" stroke="#000" stroke-width="1.65" />
<line x1="715.19" y1="19.90" x2="715.19" y2="28.80" stroke="#000" stroke-width="1.65" />
<line x1="719.41" y1="374.00" x2="719.41" y2="365.10" stroke="#000" stroke-width="1.65" />
<line x1="719.41" y1="19.90" x2="719.41" y2="28.80" stroke="#000" stroke-width="1.65" />
<line x1="723.13" y1="374.00" x2="723.13" y2="365.10" stroke="#000" stroke-width="1.65" />
<line x1="723.13" y1="19.90" x2="723.13" y2="28.80" stroke="#000" stroke-width="1.65" />
<line x1="726.46" y1="374.00" x2="726.46" y2="356.30" stroke="#000" stroke-width="1.65" />
<line x1="726.46" y1="19.90" x2="726.46" y2="37.60" stroke="#000" stroke-width="1.65" />
<line x1="748.37" y1="374.00" x2="748.37" y2="365.10" stroke="#000" stroke-width="1.65" />
<line x1="748.37" y1="19.90" x2="748.37" y2="28.80" stroke="#000" stroke-width="1.65" />
<line x1="761.19" y1="374.00" x2="761.19" y2="365.10" stroke="#000" stroke-width="1.65" />
<line x1="761.19" y1="19.90" x2="761.19" y2="28.80" stroke="#000" stroke-width="1.65" />
<line x1="770.28" y1="374.00" x2="770.28" y2="365.10" stroke="#000" stroke-width="1.65" />
<line x1="770.28" y1="19.90" x2="770.28" y2="28.80" stroke="#000" stroke-width="1.65" />
<line x1="777.34" y1="374.00" x2="777.34" y2="365.10" stroke="#000" stroke-width="1.65" />
<line x1="777.34" y1="19.90" x2="777.34" y2="28.80" stroke="#000" stroke-width="1.65" />
<line x1="783.10" y1="374.00" x2="783.10" y2="365.10" stroke="#000" stroke-width="1.65" />
<line x1="783.10" y1="19.90" x2="783.10" y2="28.80" stroke="#000" stroke-width="1.65" />
<line x1="787.98" y1="374.00" x2="787.98" y2="365.10" stroke="#000" stroke-width="1.65" />
<line x1="787.98" y1="19.90" x2="787.98" y2="28.80" stroke="#000" stroke-width="1.65" />
<line x1="792.20" y1="374.00" x2="792.20" y2="365.10" stroke="#000" stroke-width="1.65" />
<line x1="792.20" y1="19.90" x2="792.20" y2="28.80" stroke="#000" stroke-width="1.65" />
<line x1="795.92" y1="374.00" x2="795.92" y2="365.10" stroke="#000" stroke-width="1.65" />
<line x1="795.92" y1="19.90" x2="795.92" y2="28.80" stroke="#000" stroke-width="1.65" />
<line x1="799.25" y1="374.00" x2="799.25" y2="356.30" stroke="#000" stroke-width="1.65" />
<line x1="799.25" y1="19.90" x2="799.25" y2="37.60" stroke="#000" stroke-width="1.65" />
<line x1="508.10" y1="374.00" x2="525.80" y2="374.00" stroke="#000" stroke-width="1.65" />
<line x1="799.30" y1="374.00" x2="781.60" y2="374.00" stroke="#000" stroke-width="1.65" />
<line x1="508.10" y1="356.30" x2="517.00" y2="356.30" stroke="#000" stroke-width="1.65" />
<line x1="799.30" y1="356.30" x2="790.40" y2="356.30" stroke="#000" stroke-width="1.65" />
<line x1="508.10" y1="338.59" x2="517.00" y2="338.59" stroke="#000" stroke-width="1.65" />
<line x1="799.30" y1="338.59" x2="790.40" y2="338.59" stroke="#000" stroke-width="1.65" />
<line x1="508.10" y1="320.88" x2="517.00" y2="320.88" stroke="#000" stroke-width="1.65" />
<line x1="799.30" y1="320.88" x2="790.40" y2="320.88" stroke="#000" stroke-width="1.65" />
<line x1="508.10" y1="303.18" x2="517.00" y2="303.18" stroke="#000" stroke-width="1.65" />
<line x1="799.30" y1="303.18" x2="790.40" y2="303.18" stroke="#000" stroke-width="1.65" />
<line x1="508.10" y1="285.48" x2="525.80" y2="285.48" stroke="#000" stroke-width="1.65" />
<line x1="799.30" y1="285.48" x2="781.60" y2="285.48" stroke="#000" stroke-width="1.65" />
<line x1="508.10" y1="267.77" x2="517.00" y2="267.77" stroke="#000" stroke-width="1.65" />
<line x1="799.30" y1="267.77" x2="790.40" y2="267.77" stroke="#000" stroke-width="1.65" />
<line x1="508.10" y1="250.06" x2="517.00" y2="250.06" stroke="#000" stroke-width="1.65" />
<line x1="799.30" y1="250.06" x2="790.40" y2="250.06" stroke="#000" stroke-width="1.65" />
<line x1="508.10" y1="232.36" x2="517.00" y2="232.36" stroke="#000" stroke-width="1.65" />
<line x1="799.30" y1="232.36" x2="790.40" y2="232.36" stroke="#000" stroke-width="1.65" />
<line x1="508.10" y1="214.66" x2="517.00" y2="214.66" stroke="#000" stroke-width="1.65" />
<line x1="799.30" y1="214.66" x2="790.40" y2="214.66" stroke="#000" stroke-width="1.65" />
<line x1="508.10" y1="196.95" x2="525.80" y2="196.95" stroke="#000" stroke-width="1.65" />
<line x1="799.30" y1="196.95" x2="781.60" y2="196.95" stroke="#000" stroke-width="1.65" />
<line x1="508.10" y1="179.25" x2="517.00" y2="179.25" stroke="#000" stroke-width="1.65" />
<line x1="799.30" y1="179.25" x2="790.40" y2="179.25" stroke="#000" stroke-width="1.65" />
<line x1="508.10" y1="161.54" x2="517.00" y2="161.54" stroke="#000" stroke-width="1.65" />
<line x1="799.30" y1="161.54" x2="790.40" y2="161.54" stroke="#000" stroke-width="1.65" />
<line x1="508.10" y1="143.83" x2="517.00" y2="143.83" stroke="#000" stroke-width="1.65" />
<line x1="799.30" y1="143.83" x2="790.40" y2="143.83" stroke="#000" stroke-width="1.65" />
<line x1="508.10" y1="126.13" x2="517.00" y2="126.13" stroke="#000" stroke-width="1.65" />
<line x1="799.30" y1="126.13" x2="790.40" y2="126.13" stroke="#000" stroke-width="1.65" />
<line x1="508.10" y1="108.43" x2="525.80" y2="108.43" stroke="#000" stroke-width="1.65" />
<line x1="799.30" y1="108.43" x2="781.60" y2="108.43" stroke="#000" stroke-width="1.65" />
<line x1="508.10" y1="90.72" x2="517.00" y2="90.72" stroke="#000" stroke-width="1.65" />
<line x1="799.30" y1="90.72" x2="790.40" y2="90.72" stroke="#000" stroke-width="1.65" />
<line x1="508.10" y1="73.01" x2="517.00" y2="73.01" stroke="#000" stroke-width="1.65" />
<line x1="799.30" y1="73.01" x2="790.40" y2="73.01" stroke="#000" stroke-width="1.65" />
<line x1="508.10" y1="55.31" x2="517.00" y2="55.31" stroke="#000" stroke-width="1.65" />
<line x1="799.30" y1="55.31" x2="790.40" y2="55.31" stroke="#000" stroke-width="1.65" />
<line x1="508.10" y1="37.61" x2="517.00" y2="37.61" stroke="#000" stroke-width="1.65" />
<line x1="799.30" y1="37.61" x2="790.40" y2="37.61" stroke="#000" stroke-width="1.65" />
<line x1="508.10" y1="19.90" x2="525.80" y2="19.90" stroke="#000" stroke-width="1.65" />
<line x1="799.30" y1="19.90" x2="781.60" y2="19.90" stroke="#000" stroke-width="1.65" />
<path d="M530.60,327.00 C542.17,327.03 581.77,327.07 600.00,327.20 C618.23,327.33 627.53,327.23 640.00,327.80 C652.47,328.37 664.95,329.32 674.80,330.60 C684.65,331.88 691.57,333.35 699.10,335.50 C706.63,337.65 713.03,340.55 720.00,343.50 C726.97,346.45 734.52,350.13 740.90,353.20 C747.28,356.27 752.50,359.40 758.30,361.90 C764.10,364.40 768.75,366.32 775.70,368.20 C782.65,370.08 795.95,372.37 800.00,373.20" fill="none" stroke="#000000" stroke-width="1.65" stroke-linejoin="round" stroke-dasharray="2.3 4" />
<path d="M530.60,227.80 C533.62,227.82 542.80,227.43 548.70,227.90 C554.60,228.37 561.65,229.45 566.00,230.60 C570.35,231.75 571.88,232.65 574.80,234.80 C577.72,236.95 579.73,238.58 583.50,243.50 C587.27,248.42 592.18,256.77 597.40,264.30 C602.62,271.83 609.00,280.98 614.80,288.70 C620.60,296.42 628.15,306.13 632.20,310.60 C636.25,315.07 636.20,314.33 639.10,315.50 C642.00,316.67 646.12,316.90 649.60,317.60 C653.08,318.30 655.80,318.98 660.00,319.70 C664.20,320.42 668.28,320.37 674.80,321.90 C681.32,323.43 691.57,326.17 699.10,328.90 C706.63,331.63 713.03,334.72 720.00,338.30 C726.97,341.88 734.52,346.63 740.90,350.40 C747.28,354.17 752.50,358.00 758.30,360.90 C764.10,363.80 768.75,365.78 775.70,367.80 C782.65,369.82 795.95,372.13 800.00,373.00" fill="none" stroke="#000000" stroke-width="1.65" stroke-linejoin="round"/>
<path d="M530.30,261.90 C535.25,261.90 548.38,261.85 560.00,261.90 C571.62,261.95 590.00,262.07 600.00,262.20 C610.00,262.33 613.77,262.43 620.00,262.70 C626.23,262.97 631.60,263.30 637.40,263.80 C643.20,264.30 649.00,264.80 654.80,265.70 C660.60,266.60 666.40,267.68 672.20,269.20 C678.00,270.72 685.12,272.93 689.60,274.80 C694.08,276.67 694.62,277.07 699.10,280.40 C703.58,283.73 710.70,289.22 716.50,294.80 C722.30,300.38 728.10,306.95 733.90,313.90 C739.70,320.85 745.50,329.53 751.30,336.50 C757.10,343.47 762.92,350.48 768.70,355.70 C774.48,360.92 780.78,365.00 786.00,367.80 C791.22,370.60 797.67,371.72 800.00,372.50" fill="none" stroke="#ff0000" stroke-width="1.65" stroke-linejoin="round" stroke-dasharray="2.3 4" />
<path d="M530.30,80.20 C532.78,80.22 539.82,80.02 545.20,80.30 C550.58,80.58 557.38,81.15 562.60,81.90 C567.82,82.65 573.13,83.95 576.50,84.80 C579.87,85.65 580.77,85.50 582.80,87.00 C584.83,88.50 586.85,91.05 588.70,93.80 C590.55,96.55 591.92,99.13 593.90,103.50 C595.88,107.87 597.92,113.37 600.60,120.00 C603.28,126.63 606.70,135.20 610.00,143.30 C613.30,151.40 617.40,161.32 620.40,168.60 C623.40,175.88 625.47,180.92 628.00,187.00 C630.53,193.08 633.17,199.63 635.60,205.10 C638.03,210.57 640.07,214.48 642.60,219.80 C645.13,225.12 648.65,232.80 650.80,237.00 C652.95,241.20 653.73,242.97 655.50,245.00 C657.27,247.03 658.03,247.72 661.40,249.20 C664.77,250.68 671.30,252.25 675.70,253.90 C680.10,255.55 683.75,256.92 687.80,259.10 C691.85,261.28 696.37,264.53 700.00,267.00 C703.63,269.47 705.10,269.57 709.60,273.90 C714.10,278.23 721.22,286.03 727.00,293.00 C732.78,299.97 738.52,307.87 744.30,315.70 C750.08,323.53 755.90,332.77 761.70,340.00 C767.50,347.23 773.88,354.28 779.10,359.10 C784.32,363.92 789.63,366.75 793.00,368.90 C796.37,371.05 798.25,371.48 799.30,372.00" fill="none" stroke="#ff0000" stroke-width="1.65" stroke-linejoin="round"/>
<path d="M530.30,368.40 C542.58,368.40 590.73,368.53 604.00,368.40 C617.27,368.27 603.90,367.57 609.90,367.60 C615.90,367.63 624.98,368.15 640.00,368.60 C655.02,369.05 680.00,369.65 700.00,370.30 C720.00,370.95 743.33,371.92 760.00,372.50 C776.67,373.08 793.33,373.58 800.00,373.80" fill="none" stroke="#0000ff" stroke-width="1.65" stroke-linejoin="round" stroke-dasharray="2.3 4" />
<path d="M530.60,331.00 C533.22,331.02 541.77,330.60 546.30,331.10 C550.83,331.60 553.63,332.73 557.80,334.00 C561.97,335.27 567.12,336.87 571.30,338.70 C575.48,340.53 579.68,342.82 582.90,345.00 C586.12,347.18 588.03,349.22 590.60,351.80 C593.17,354.38 596.05,358.15 598.30,360.50 C600.55,362.85 602.17,364.75 604.10,365.90 C606.03,367.05 603.92,366.95 609.90,367.40 C615.88,367.85 624.98,368.12 640.00,368.60 C655.02,369.08 680.00,369.65 700.00,370.30 C720.00,370.95 743.33,371.92 760.00,372.50 C776.67,373.08 793.33,373.58 800.00,373.80" fill="none" stroke="#0000ff" stroke-width="1.65" stroke-linejoin="round"/>
<text transform="translate(103.05,407.80) scale(1.1186,1)" text-anchor="middle" font-size="29.5">0.1</text>
<text transform="translate(175.84,407.80) scale(1.1186,1)" text-anchor="middle" font-size="29.5">1</text>
<text transform="translate(249.32,407.80) scale(1.1186,1)" text-anchor="middle" font-size="29.5">10</text>
<text transform="translate(321.41,407.80) scale(1.1186,1)" text-anchor="middle" font-size="29.5">100</text>
<text transform="translate(395.40,407.80) scale(1.1186,1)" text-anchor="middle" font-size="29.5">1000</text>
<text class="t" transform="translate(210.27,443.70) scale(0.9087,1.0036)" font-size="28">R</text>
<text class="t" transform="translate(227.93,445.29) scale(1.0907,1.2298)" font-size="28">[</text>
<text class="t" transform="translate(239.99,443.70) scale(0.7699,0.9954)" font-size="28">A</text>
<text class="t" transform="translate(258.71,443.73) scale(0.8296,1.0050)" font-size="28">U</text>
<text class="t" transform="translate(277.70,445.29) scale(1.0907,1.2298)" font-size="28">]</text>
<text transform="translate(508.10,407.80) scale(1.1186,1)" text-anchor="middle" font-size="29.5">0.1</text>
<text transform="translate(580.89,407.80) scale(1.1186,1)" text-anchor="middle" font-size="29.5">1</text>
<text transform="translate(653.67,407.80) scale(1.1186,1)" text-anchor="middle" font-size="29.5">10</text>
<text transform="translate(726.46,407.80) scale(1.1186,1)" text-anchor="middle" font-size="29.5">100</text>
<text transform="translate(799.55,407.80) scale(1.1186,1)" text-anchor="middle" font-size="29.5">1000</text>
<text class="t" transform="translate(615.32,443.70) scale(0.9087,1.0036)" font-size="28">R</text>
<text class="t" transform="translate(632.98,445.29) scale(1.0907,1.2298)" font-size="28">[</text>
<text class="t" transform="translate(645.04,443.70) scale(0.7699,0.9954)" font-size="28">A</text>
<text class="t" transform="translate(663.76,443.73) scale(0.8296,1.0050)" font-size="28">U</text>
<text class="t" transform="translate(682.75,445.29) scale(1.0907,1.2298)" font-size="28">]</text>
<text transform="translate(77.20,32.70) scale(1.1186,1)" text-anchor="end" font-size="29.5">10</text>
<text class="t" transform="translate(77.00,19.43) scale(0.7979,0.6342)" font-size="28">5</text>
<text transform="translate(77.20,89.00) scale(1.1186,1)" text-anchor="end" font-size="29.5">10</text>
<text class="t" transform="translate(77.92,75.90) scale(0.6915,0.6403)" font-size="28">4</text>
<text transform="translate(77.20,145.30) scale(1.1186,1)" text-anchor="end" font-size="29.5">10</text>
<text class="t" transform="translate(77.26,132.03) scale(0.7781,0.6272)" font-size="28">3</text>
<text transform="translate(77.20,201.60) scale(1.1186,1)" text-anchor="end" font-size="29.5">10</text>
<text class="t" transform="translate(77.31,188.50) scale(0.8018,0.6365)" font-size="28">2</text>
<text transform="translate(87.90,254.50) scale(1.1186,1)" text-anchor="end" font-size="29.5">10</text>
<text transform="translate(87.90,310.80) scale(1.1186,1)" text-anchor="end" font-size="29.5">1</text>
<text transform="translate(87.90,367.10) scale(1.1186,1)" text-anchor="end" font-size="29.5">0.1</text>
<text transform="translate(492.60,29.30) scale(1.1186,1)" text-anchor="end" font-size="29.5">0.4</text>
<text transform="translate(492.60,117.83) scale(1.1186,1)" text-anchor="end" font-size="29.5">0.3</text>
<text transform="translate(492.60,206.35) scale(1.1186,1)" text-anchor="end" font-size="29.5">0.2</text>
<text transform="translate(492.60,294.88) scale(1.1186,1)" text-anchor="end" font-size="29.5">0.1</text>
<text transform="translate(493.00,383.80) scale(1.1186,1)" text-anchor="end" font-size="29.5">0</text>
<text class="" transform="translate(28.90,265.91) rotate(-90) scale(1.1019,1.0363)" font-size="28">Σ</text>
<text class="t" transform="translate(30.48,247.07) rotate(-90) scale(1.0426,1.2600)" font-size="28">[</text>
<text class="t" transform="translate(29.08,236.23) rotate(-90) scale(1.0193,0.9798)" font-size="28">g</text>
<text class="t" transform="translate(28.62,206.72) rotate(-90) scale(1.1429,1.0322)" font-size="28">c</text>
<text class="t" transform="translate(28.70,190.59) rotate(-90) scale(1.1805,1.0384)" font-size="28">m</text>
<line x1="10.30" y1="161.40" x2="10.30" y2="152.70" stroke="#000" stroke-width="1.4" />
<text class="t" transform="translate(15.60,150.40) rotate(-90) scale(0.7305,0.6635)" font-size="28">2</text>
<text class="t" transform="translate(30.48,138.46) rotate(-90) scale(0.9464,1.2600)" font-size="28">]</text>
<text class="t" transform="translate(428.70,293.42) rotate(-90) scale(0.7692,1.0418)" font-size="28">M</text>
<text class="t" transform="translate(427.64,272.03) rotate(-90) scale(1.0846,1.0832)" font-size="28">(</text>
<text class="t" transform="translate(428.70,260.07) rotate(-90) scale(0.8301,1.0418)" font-size="28">R</text>
<text class="" transform="translate(436.53,242.97) rotate(-90) scale(0.6743,0.6193)" font-size="28" font-weight="bold">disk</text>
<text class="t" transform="translate(431.73,206.08) rotate(-90) scale(1.0438,1.1919)" font-size="28">&gt;</text>
<text class="t" transform="translate(428.70,187.63) rotate(-90) scale(0.9087,1.0418)" font-size="28">R</text>
<text class="t" transform="translate(427.64,168.59) rotate(-90) scale(0.9873,1.0832)" font-size="28">)</text>
<text class="t" transform="translate(430.45,156.13) rotate(-90) scale(0.8341,1.2687)" font-size="28">[</text>
<text class="t" transform="translate(428.70,145.22) rotate(-90) scale(0.7692,1.0418)" font-size="28">M</text>
<circle cx="430.5" cy="118.9" r="5.2" fill="none" stroke="#000" stroke-width="1.4"/><circle cx="430.5" cy="118.9" r="1.5" fill="#000"/>
<text class="t" transform="translate(430.45,110.41) rotate(-90) scale(0.9945,1.2687)" font-size="28">]</text>
</svg>
</body></html>
